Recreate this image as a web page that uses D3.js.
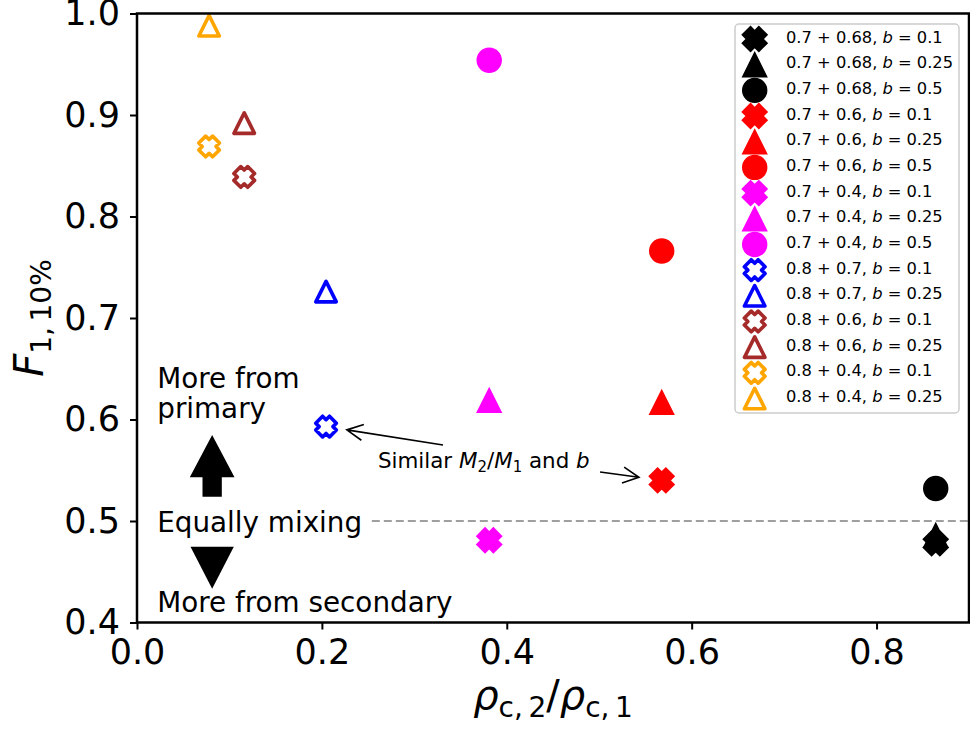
<!DOCTYPE html>
<html>
<head>
<meta charset="utf-8">
<script src="https://cdn.jsdelivr.net/npm/d3@7"></script>
<style>
  body { margin: 0; background: #fff; }
  svg { display: block; }
  text { font-family: "DejaVu Sans", sans-serif; fill: #000; }
</style>
</head>
<body>
<svg id="chart" width="970" height="729"></svg>
<script>
// Binary mass pairs (primary + secondary), tidal parameter b,
// central density ratio and the primary's share of the mixed material.
const primaryMass   = [0.7, 0.7, 0.7, 0.7, 0.7, 0.7, 0.7, 0.7, 0.7, 0.8, 0.8, 0.8, 0.8, 0.8, 0.8];
const secondaryMass = [0.68, 0.68, 0.68, 0.6, 0.6, 0.6, 0.4, 0.4, 0.4, 0.7, 0.7, 0.6, 0.6, 0.4, 0.4];
const bValues       = [0.1, 0.25, 0.5, 0.1, 0.25, 0.5, 0.1, 0.25, 0.5, 0.1, 0.25, 0.1, 0.25, 0.1, 0.25];
const densityRatio  = [0.864, 0.864, 0.864, 0.5676, 0.5676, 0.5676, 0.381, 0.381, 0.381, 0.2045, 0.2045, 0.116, 0.116, 0.078, 0.078];
const f1Values      = [0.478, 0.486, 0.532, 0.540, 0.617, 0.766, 0.481, 0.619, 0.954, 0.593, 0.726, 0.839, 0.892, 0.869, 0.988];

const xTicks = [0.0, 0.2, 0.4, 0.6, 0.8];
const yTicks = [0.4, 0.5, 0.6, 0.7, 0.8, 0.9, 1.0];

// Colour for each mass pair
const pairColors = {
  "0.7 + 0.68": "#000000",
  "0.7 + 0.6": "#ff0000",
  "0.7 + 0.4": "#ff00ff",
  "0.8 + 0.7": "#0000ff",
  "0.8 + 0.6": "#a52a2a",
  "0.8 + 0.4": "#ffa500"
};
const pairKey = i => `${primaryMass[i]} + ${secondaryMass[i]}`;
const shapeFor = b => (b === 0.1 ? "x" : b === 0.25 ? "tri" : "circle");
const isOpen = i => primaryMass[i] === 0.8;

const svg = d3.select("#chart");
const plot = { left: 137, right: 969, top: 13.5, bottom: 622.5 };

const x = d3.scaleLinear().domain([0, 0.9]).range([plot.left, plot.right]);
const y = d3.scaleLinear().domain([0.4, 1.0]).range([plot.bottom, plot.top]);

// ---- marker paths ----
function markerPath(shape, m) {
  const h = m / 2;
  if (shape === "circle") {
    return `M${h},0A${h},${h} 0 1,1 ${-h},0A${h},${h} 0 1,1 ${h},0Z`;
  }
  if (shape === "tri") {
    return `M0,${-h}L${-h},${h}L${h},${h}Z`;
  }
  // filled "X": a plus with half-width arms, rotated by 45 degrees
  const pts = [[-1, -0.5], [-1, 0.5], [-0.5, 0.5], [-0.5, 1], [0.5, 1], [0.5, 0.5],
               [1, 0.5], [1, -0.5], [0.5, -0.5], [0.5, -1], [-0.5, -1], [-0.5, -0.5]];
  const c = Math.SQRT1_2;
  return "M" + pts.map(([px, py]) => {
    const ux = px * m / 2, uy = py * m / 2;
    return [(ux * c - uy * c).toFixed(2), (ux * c + uy * c).toFixed(2)].join(",");
  }).join("L") + "Z";
}

function drawMarker(g, i, cx, cy) {
  const shape = shapeFor(bValues[i]);
  const col = pairColors[pairKey(i)];
  const open = isOpen(i);
  const m = open ? (shape === "x" ? 19.5 : 20.5) : (shape === "x" ? 23.5 : 24);
  g.append("path")
    .attr("transform", `translate(${cx},${cy})`)
    .attr("d", markerPath(shape, m))
    .attr("fill", open ? "#fff" : col)
    .attr("stroke", col)
    .attr("stroke-width", open ? 3.6 : 1.4)
    .attr("stroke-linejoin", open ? "round" : "miter");
}

// ---- axes ----
const xAxis = d3.axisBottom(x).tickValues(xTicks).tickFormat(d3.format(".1f"))
  .tickSize(7).tickPadding(10).tickSizeOuter(0);
const yAxis = d3.axisLeft(y).tickValues(yTicks).tickFormat(d3.format(".1f"))
  .tickSize(7).tickPadding(10).tickSizeOuter(0);

const gx = svg.append("g").attr("transform", `translate(0,${plot.bottom})`).call(xAxis);
const gy = svg.append("g").attr("transform", `translate(${plot.left},0)`).call(yAxis);
[gx, gy].forEach(g => {
  g.select(".domain").remove();
  g.selectAll(".tick line").attr("stroke", "#000").attr("stroke-width", 2);
  g.selectAll(".tick text").attr("font-size", 35).attr("fill", "#000")
    .style("font-family", '"DejaVu Sans", sans-serif');
});

// ---- reference line and annotations ----
const annot = svg.append("g");

annot.append("line")
  .attr("x1", x(0.254)).attr("x2", x(0.9))
  .attr("y1", y(0.5)).attr("y2", y(0.5))
  .attr("stroke", "#808080").attr("stroke-width", 1.6)
  .attr("stroke-dasharray", "8,4");

const noteFont = 27.8;
annot.append("text").attr("x", x(0.0219)).attr("y", y(0.6307)).attr("font-size", noteFont).text("More from");
annot.append("text").attr("x", x(0.0219)).attr("y", y(0.6012)).attr("font-size", noteFont).text("primary");
annot.append("text").attr("x", x(0.0219)).attr("y", y(0.4895)).attr("font-size", noteFont).text("Equally mixing");
annot.append("text").attr("x", x(0.0219)).attr("y", y(0.4106)).attr("font-size", noteFont).text("More from secondary");

// block arrows: up (towards primary) and down (towards secondary)
const ax = x(0.0813);
const headW = 44.7, shaftW = 19.3;
const upTip = y(0.5847), upBase = y(0.543), upTail = y(0.524);
annot.append("path")
  .attr("d", `M${ax},${upTip}L${ax - headW / 2},${upBase}L${ax - shaftW / 2},${upBase}` +
             `L${ax - shaftW / 2},${upTail}L${ax + shaftW / 2},${upTail}L${ax + shaftW / 2},${upBase}` +
             `L${ax + headW / 2},${upBase}Z`)
  .attr("fill", "#000");
const dnTop = y(0.4747), dnTip = y(0.4333), dnW = 43.3;
annot.append("path")
  .attr("d", `M${ax - dnW / 2},${dnTop}L${ax + dnW / 2},${dnTop}L${ax},${dnTip}Z`)
  .attr("fill", "#000");

// "Similar M2/M1 and b" note with two pointer arrows
const simFont = 21.4;
const sim = annot.append("text").attr("x", x(0.2607)).attr("y", y(0.5522)).attr("font-size", simFont);
sim.append("tspan").text("Similar ");
sim.append("tspan").attr("font-style", "italic").text("M");
sim.append("tspan").attr("font-size", simFont * 0.7).attr("dy", 4).text("2");
sim.append("tspan").attr("dy", -4).text("/");
sim.append("tspan").attr("font-style", "italic").text("M");
sim.append("tspan").attr("font-size", simFont * 0.7).attr("dy", 4).text("1");
sim.append("tspan").attr("dy", -4).text(" and ");
sim.append("tspan").attr("font-style", "italic").text("b");

function pointer(fromX, fromY, toIdx, shrink) {
  const x0 = x(fromX), y0 = y(fromY);
  const tx = x(densityRatio[toIdx]), ty = y(f1Values[toIdx]);
  const dx = tx - x0, dy = ty - y0, len = Math.hypot(dx, dy);
  const ux = dx / len, uy = dy / len;
  const ex = tx - ux * shrink, ey = ty - uy * shrink;
  const hl = 16, hw = 8;
  const bx = ex - ux * hl, by = ey - uy * hl;
  annot.append("path")
    .attr("d", `M${x0},${y0}L${ex},${ey}M${bx - uy * hw},${by + ux * hw}L${ex},${ey}L${bx + uy * hw},${by - ux * hw}`)
    .attr("fill", "none").attr("stroke", "#000").attr("stroke-width", 1.6);
}
pointer(0.331, 0.5749, 9, 21);
pointer(0.5009, 0.5483, 3, 23);

// ---- data points ----
const pts = svg.append("g");
densityRatio.forEach((d, i) => drawMarker(pts, i, x(d), y(f1Values[i])));

// ---- frame ----
svg.append("rect")
  .attr("x", plot.left).attr("y", plot.top)
  .attr("width", plot.right - plot.left).attr("height", plot.bottom - plot.top)
  .attr("fill", "none").attr("stroke", "#000").attr("stroke-width", 2.5);

// ---- axis labels ----
const xl = svg.append("text").attr("x", (plot.left + plot.right) / 2).attr("y", 709)
  .attr("text-anchor", "middle").attr("font-size", 40);
xl.append("tspan").attr("font-style", "italic").text("ρ");
xl.append("tspan").attr("font-size", 28).attr("dy", 8).text("c,\u20092");
xl.append("tspan").attr("dy", -8).text("/");
xl.append("tspan").attr("font-style", "italic").text("ρ");
xl.append("tspan").attr("font-size", 28).attr("dy", 8).text("c,\u20091");

const yl = svg.append("text")
  .attr("transform", `translate(43,${(plot.top + plot.bottom) / 2}) rotate(-90)`)
  .attr("text-anchor", "middle").attr("font-size", 40);
yl.append("tspan").attr("font-style", "italic").text("F");
yl.append("tspan").attr("font-size", 28).attr("dy", 8).text("1,\u200910%");

// ---- legend ----
const leg = svg.append("g");
leg.append("rect")
  .attr("x", 735).attr("y", 24).attr("width", 224).attr("height", 389)
  .attr("rx", 4).attr("fill", "#fff").attr("fill-opacity", 0.8)
  .attr("stroke", "#cccccc").attr("stroke-width", 1.5);
const rowH = 25.68;
densityRatio.forEach((d, i) => {
  const cy = 39 + i * rowH;
  drawMarker(leg, i, 754.7, cy);
  const t = leg.append("text").attr("x", 786).attr("y", cy + 3.6).attr("font-size", 16.3);
  t.append("tspan").text(`${pairKey(i)}, `);
  t.append("tspan").attr("font-style", "italic").text("b");
  t.append("tspan").text(` = ${bValues[i]}`);
});
</script>
</body>
</html>
